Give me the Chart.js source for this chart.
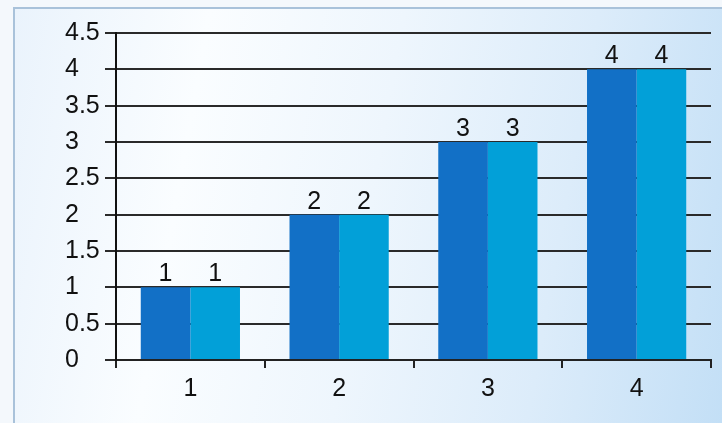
<!DOCTYPE html>
<html>
<head>
<meta charset="utf-8">
<script src="https://cdn.jsdelivr.net/npm/chart.js@4.4.1/dist/chart.umd.min.js"></script>
<style>
  html, body { margin:0; padding:0; width:722px; height:423px; overflow:hidden; background:#f4f8fc; }
  #frame { position:absolute; left:13px; top:7px; width:709px; height:416px; box-sizing:border-box;
    border-left:2px solid #a9c2da; border-top:2px solid #a9c2da;
    background: linear-gradient(100deg, #eaf3fc 0%, #fafdff 25%, #eef6fd 50%, #dcecfa 75%, #c3dff6 100%); }
  #wrap { position:absolute; left:0; top:0; width:722px; height:423px; }
</style>
</head>
<body>
<div id="frame"></div>
<div id="wrap"><canvas id="c" width="722" height="423"></canvas></div>
<script>
const categories = ['1', '2', '3', '4'];
const series1 = [1, 2, 3, 4];
const series2 = [1, 2, 3, 4];
const yTicks = [0, 0.5, 1, 1.5, 2, 2.5, 3, 3.5, 4, 4.5];

const FONT = { family: '"Liberation Sans", Arial, sans-serif', size: 25 };

const valueLabels = {
  id: 'valueLabels',
  afterDatasetsDraw(chart) {
    const ctx = chart.ctx;
    ctx.save();
    ctx.font = `${FONT.size}px ${FONT.family}`;
    ctx.fillStyle = '#111';
    ctx.textAlign = 'center';
    ctx.textBaseline = 'alphabetic';
    chart.data.datasets.forEach((ds, i) => {
      chart.getDatasetMeta(i).data.forEach((bar, j) => {
        ctx.fillText(String(ds.data[j]), bar.x, bar.y - 6);
      });
    });
    ctx.restore();
  }
};

new Chart(document.getElementById('c'), {
  type: 'bar',
  data: {
    labels: categories,
    datasets: [
      { data: series1, backgroundColor: '#1270c6', borderWidth: 0 },
      { data: series2, backgroundColor: '#02a0d8', borderWidth: 0 }
    ]
  },
  options: {
    responsive: false,
    animation: false,
    events: [],
    layout: { padding: { left: 65, top: 33, right: 11, bottom: 0 } },
    plugins: { legend: { display: false }, tooltip: { enabled: false } },
    datasets: { bar: { categoryPercentage: 0.667, barPercentage: 1.0 } },
    scales: {
      x: {
        offset: true,
        grid: { display: true, drawOnChartArea: false, offset: true, tickLength: 8, color: '#222', lineWidth: 2 },
        border: { display: true, color: '#222', width: 2 },
        ticks: { font: FONT, color: '#111', padding: 6 },
        afterFit(scale) { scale.height = 63; }
      },
      y: {
        min: 0, max: 4.5,
        afterBuildTicks(scale) { scale.ticks = yTicks.map(v => ({ value: v })); },
        grid: { color: '#2a2a2a', lineWidth: 2, tickLength: 11, drawTicks: true },
        border: { display: true, color: '#111', width: 2 },
        ticks: { font: FONT, color: '#111', crossAlign: 'far', padding: 4,
                 callback: v => String(v) },
        afterFit(scale) { scale.width = 51; }
      }
    }
  },
  plugins: [valueLabels]
});
</script>
</body>
</html>
